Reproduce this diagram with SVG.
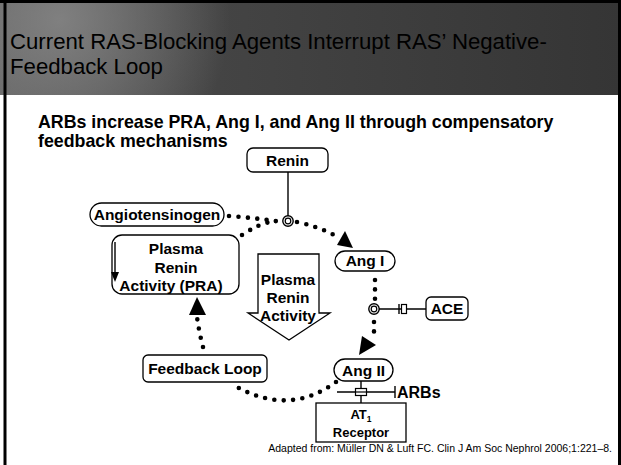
<svg xmlns="http://www.w3.org/2000/svg" width="621" height="465" viewBox="0 0 621 465">
<defs>
<linearGradient id="hdr" x1="0" y1="0" x2="1" y2="0">
<stop offset="0" stop-color="#5e5e5e"/>
<stop offset="0.35" stop-color="#444"/>
<stop offset="1" stop-color="#353535"/>
</linearGradient>
<radialGradient id="glow" cx="60" cy="20" r="170" gradientUnits="userSpaceOnUse">
<stop offset="0" stop-color="#8a8a8a" stop-opacity="0.8"/>
<stop offset="1" stop-color="#8a8a8a" stop-opacity="0"/>
</radialGradient>
<style>
.b{fill:#fff;stroke:#000;stroke-width:1.3}
.t{font-family:"Liberation Sans",Arial,sans-serif;font-weight:bold;font-size:15.5px;fill:#000;text-anchor:middle}
.dot{fill:none;stroke:#000;stroke-width:4.6;stroke-linecap:round;stroke-dasharray:0 9.4}
.ln{fill:none;stroke:#000;stroke-width:1.4}
</style>
</defs>
<rect x="0" y="0" width="621" height="465" fill="#fff"/>
<rect x="0" y="0" width="621" height="95" fill="url(#hdr)"/>
<rect x="0" y="0" width="621" height="95" fill="url(#glow)"/>
<rect x="0" y="0" width="621" height="3" fill="#000"/>
<rect x="3.5" y="0" width="3" height="465" fill="#000"/>
<rect x="618" y="0" width="3" height="465" fill="#000"/>
<text x="10" y="49" font-family="'Liberation Sans',Arial,sans-serif" font-size="22.2" fill="#000">Current RAS-Blocking Agents Interrupt RAS’ Negative-</text>
<text x="10" y="74" font-family="'Liberation Sans',Arial,sans-serif" font-size="22.2" fill="#000">Feedback Loop</text>
<text x="38" y="128" class="t" style="text-anchor:start;font-size:17.8px">ARBs increase PRA, Ang I, and Ang II through compensatory</text>
<text x="38" y="147" class="t" style="text-anchor:start;font-size:17.8px">feedback mechanisms</text>

<g id="connectors">
<path class="dot" d="M229,216 Q256,218 282,222"/>
<path class="dot" d="M297,222 Q320,227 338,237"/>
<polygon points="345,231 337,245 353,248" fill="#000"/>
<path class="dot" d="M242,235 Q258,224 274,221"/>
<line class="ln" x1="288" y1="172" x2="288" y2="216"/>
<circle cx="288" cy="221" r="5.2" fill="#fff" stroke="#000" stroke-width="1.4"/>
<circle cx="288" cy="221" r="2.8" fill="#fff" stroke="#000" stroke-width="1.2"/>
<path class="dot" d="M375,280 L375,300"/>
<circle cx="374" cy="309" r="5.2" fill="#fff" stroke="#000" stroke-width="1.4"/>
<circle cx="374" cy="309" r="2.8" fill="#fff" stroke="#000" stroke-width="1.2"/>
<path class="dot" d="M374,322 L374,332"/>
<polygon points="362,336 376,345 359,355" fill="#000"/>
<line class="ln" x1="379" y1="309" x2="426" y2="309"/>
<line class="ln" x1="399" y1="304" x2="399" y2="314"/>
<rect x="401.5" y="304.5" width="5" height="9" fill="#fff" stroke="#000" stroke-width="1.2"/>
<path class="dot" d="M336,382 Q290,416 237,387"/>
<path class="dot" d="M203,347 Q199,332 197,317"/>
<polygon points="197,297 189,315 206,315" fill="#000"/>
<line class="ln" x1="361" y1="381" x2="361" y2="403"/>
<line class="ln" x1="337" y1="392" x2="395" y2="392"/>
<line class="ln" x1="395" y1="386" x2="395" y2="398"/>
<rect x="355.5" y="388.5" width="11" height="7" fill="#fff" stroke="#000" stroke-width="1.2"/>
<line x1="355.5" y1="392" x2="366.5" y2="392" stroke="#000" stroke-width="1.2"/>
</g>

<g id="renin">
<rect class="b" x="247" y="148" width="81" height="24" rx="6"/>
<text class="t" x="287.5" y="166">Renin</text>
</g>
<g id="angiotensinogen">
<rect class="b" x="90" y="203" width="134" height="23" rx="11.5"/>
<text class="t" x="157" y="220">Angiotensinogen</text>
</g>
<g id="pra">
<rect class="b" x="112" y="235" width="127" height="59" rx="10"/>
<line class="ln" x1="115" y1="242" x2="115" y2="274"/>
<polygon points="111,272 119,272 115,282" fill="#000"/>
<text class="t" x="176" y="254">Plasma</text>
<text class="t" x="176" y="273">Renin</text>
<text class="t" x="171" y="291">Activity (PRA)</text>
</g>
<g id="pra-arrow">
<polygon class="b" points="258,254 319,254 319,313 330,313 289,340 248,313 258,313"/>
<text class="t" x="288" y="285">Plasma</text>
<text class="t" x="288" y="303">Renin</text>
<text class="t" x="288" y="321">Activity</text>
</g>
<g id="ang1">
<rect class="b" x="335" y="251" width="60" height="20" rx="10"/>
<text class="t" x="365" y="266">Ang I</text>
</g>
<g id="ace">
<rect class="b" x="426" y="297" width="42" height="23" rx="5"/>
<text class="t" x="447" y="314">ACE</text>
</g>
<g id="ang2">
<rect class="b" x="334" y="359" width="59" height="22" rx="11"/>
<text class="t" x="363.5" y="376">Ang II</text>
</g>
<g id="arbs">
<text class="t" x="397" y="398" style="text-anchor:start;font-size:16px">ARBs</text>
</g>
<g id="at1">
<rect class="b" x="316" y="403" width="90" height="39" rx="0"/>
<text class="t" x="361" y="419" style="font-size:13px">AT<tspan dy="2.5" font-size="8.5">1</tspan></text>
<text class="t" x="361" y="437" style="font-size:13px">Receptor</text>
</g>
<g id="feedback">
<rect class="b" x="143" y="355" width="124" height="27" rx="5"/>
<text class="t" x="205" y="374">Feedback Loop</text>
</g>
<text x="612" y="452" font-family="'Liberation Sans',Arial,sans-serif" font-size="10.5" text-anchor="end" fill="#000">Adapted from: Müller DN &amp; Luft FC. Clin J Am Soc Nephrol 2006;1:221–8.</text>
</svg>
